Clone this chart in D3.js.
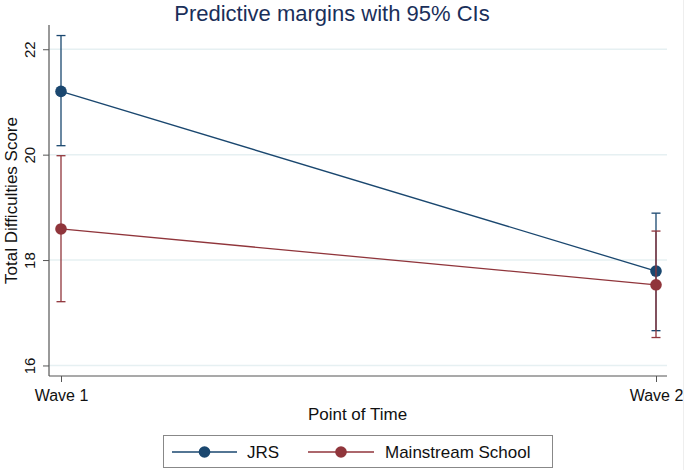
<!DOCTYPE html>
<html>
<head>
<meta charset="utf-8">
<script src="https://cdn.jsdelivr.net/npm/d3@7"></script>
<style>
  body { margin: 0; background: #fff; }
  svg { display: block; font-family: "Liberation Sans", Arial, Helvetica, sans-serif; }
</style>
</head>
<body>
<div id="chart"></div>
<script>
// ---- data ----
const waves = ["Wave 1", "Wave 2"];
const seriesNames = ["JRS", "Mainstream School"];
const jrsMargin = [21.2, 17.79];
const jrsLow = [20.17, 16.66];
const jrsHigh = [22.26, 18.89];
const msMargin = [18.59, 17.53];
const msLow = [17.21, 16.53];
const msHigh = [19.98, 18.55];
const yTicks = [16, 18, 20, 22];
const colors = ["#1a476f", "#90353b"];

const series = [
  { name: seriesNames[0], m: jrsMargin, lo: jrsLow, hi: jrsHigh, color: colors[0] },
  { name: seriesNames[1], m: msMargin, lo: msLow, hi: msHigh, color: colors[1] }
];

const W = 685, H = 470;
const plot = { left: 49, right: 667, top: 25, bottom: 376 };

const svg = d3.select("#chart").append("svg").attr("width", W).attr("height", H);
svg.append("rect").attr("width", W).attr("height", H).attr("fill", "#fff");

const x = d3.scalePoint().domain(waves).range([61, 656]);
const y = d3.scaleLinear().domain([15.8, 22.46]).range([plot.bottom, plot.top]);

// gridlines
svg.append("g").selectAll("line").data(yTicks).join("line")
  .attr("x1", plot.left).attr("x2", plot.right)
  .attr("y1", d => y(d)).attr("y2", d => y(d))
  .attr("stroke", "#e6f0f2").attr("stroke-width", 1.5);

// y axis
const yAxis = svg.append("g").attr("transform", `translate(${plot.left},0)`)
  .call(d3.axisLeft(y).tickValues(yTicks).tickSize(6).tickFormat(d3.format("d")));
yAxis.select(".domain").remove();
yAxis.selectAll(".tick line").attr("stroke", "#555");
yAxis.selectAll(".tick text")
  .attr("font-size", 15).attr("fill", "#111")
  .attr("transform", "rotate(-90)")
  .attr("x", 0).attr("y", -14).attr("dy", 0)
  .attr("text-anchor", "middle");
svg.append("line").attr("x1", plot.left).attr("x2", plot.left)
  .attr("y1", plot.top).attr("y2", plot.bottom)
  .attr("stroke", "#555").attr("stroke-width", 1.2);

// x axis
const xAxis = svg.append("g").attr("transform", `translate(0,${plot.bottom})`)
  .call(d3.axisBottom(x).tickSize(6));
xAxis.select(".domain").remove();
xAxis.selectAll(".tick line").attr("stroke", "#555");
xAxis.selectAll(".tick text").attr("font-size", 16).attr("fill", "#111").attr("y", 14).attr("dy", "0.71em");
svg.append("line").attr("x1", plot.left).attr("x2", plot.right)
  .attr("y1", plot.bottom).attr("y2", plot.bottom)
  .attr("stroke", "#555").attr("stroke-width", 1.2);

// axis titles
svg.append("text").attr("x", 357.5).attr("y", 420).attr("text-anchor", "middle")
  .attr("font-size", 17).attr("fill", "#111").text("Point of Time");
svg.append("text").attr("transform", `translate(17,${(plot.top + plot.bottom) / 2}) rotate(-90)`)
  .attr("text-anchor", "middle").attr("font-size", 17).attr("fill", "#111")
  .text("Total Difficulties Score");

// title
svg.append("text").attr("x", 332).attr("y", 21).attr("text-anchor", "middle")
  .attr("font-size", 22).attr("fill", "#1a2f5a").text("Predictive margins with 95% CIs");

// series
const line = d3.line().x((d, i) => x(waves[i])).y(d => y(d));
series.forEach(s => {
  const g = svg.append("g");
  g.append("path").datum(s.m).attr("d", line).attr("fill", "none")
    .attr("stroke", s.color).attr("stroke-width", 1.3);
  waves.forEach((w, i) => {
    g.append("line").attr("x1", x(w)).attr("x2", x(w))
      .attr("y1", y(s.lo[i])).attr("y2", y(s.hi[i]))
      .attr("stroke", s.color).attr("stroke-width", 1.3);
    [s.lo[i], s.hi[i]].forEach(v => {
      g.append("line").attr("x1", x(w) - 4.5).attr("x2", x(w) + 4.5)
        .attr("y1", y(v)).attr("y2", y(v))
        .attr("stroke", s.color).attr("stroke-width", 1.3);
    });
  });
  g.selectAll("circle").data(s.m).join("circle")
    .attr("cx", (d, i) => x(waves[i])).attr("cy", d => y(d))
    .attr("r", 5.8).attr("fill", s.color);
});

// legend
const lg = svg.append("g");
lg.append("rect").attr("x", 163.5).attr("y", 435.5).attr("width", 389).attr("height", 32)
  .attr("fill", "#fff").attr("stroke", "#888").attr("stroke-width", 1);
const legItems = [
  { x1: 172, x2: 237, text: 247 },
  { x1: 308, x2: 374, text: 385 }
];
series.forEach((s, i) => {
  const it = legItems[i];
  lg.append("line").attr("x1", it.x1).attr("x2", it.x2).attr("y1", 452).attr("y2", 452)
    .attr("stroke", s.color).attr("stroke-width", 1.3);
  lg.append("circle").attr("cx", (it.x1 + it.x2) / 2).attr("cy", 452).attr("r", 5.8).attr("fill", s.color);
  lg.append("text").attr("x", it.text).attr("y", 458).attr("font-size", 17).attr("fill", "#111").text(s.name);
});

// faint right border
svg.append("line").attr("x1", 683.5).attr("x2", 683.5).attr("y1", 0).attr("y2", H)
  .attr("stroke", "#eeeeee").attr("stroke-width", 1);
</script>
</body>
</html>
